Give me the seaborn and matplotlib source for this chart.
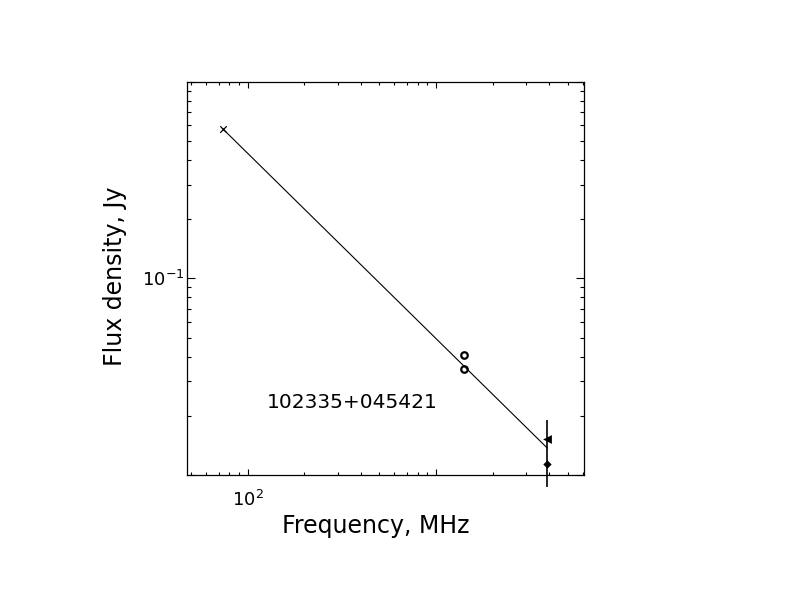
import seaborn as sns
import matplotlib.pyplot as plt
from matplotlib.ticker import FixedLocator, LogLocator, NullFormatter

# 74 MHz point (cross)
freq_cross = [74]
flux_cross = [0.574]
# 1400 MHz points (open circles)
freq_circle = [1400, 1400]
flux_circle = [0.0406, 0.0345]
# high frequency points
freq_tri = [3900]
flux_tri = [0.0152]
freq_dot = [3900]
flux_dot = [0.0114]
# vertical error bar at the high frequency end
err_freq = 3900
err_lo = 0.0087
err_hi = 0.0190
# fitted power law (end points)
fit_freq = [74, 3900]
fit_flux = [0.574, 0.0137]

source_name = '102335+045421'
x_ticks = [100, 1000]
x_ticklabels = [r'$10^{2}$', '']
y_ticks = [0.01, 0.1, 1.0]
y_ticklabels = ['', r'$10^{-1}$', '']

sns.set_style('ticks')
plt.rcParams['font.family'] = ['DejaVu Sans']
plt.rcParams.update({'text.color': 'black', 'axes.labelcolor': 'black',
                     'xtick.color': 'black', 'ytick.color': 'black',
                     'axes.edgecolor': 'black'})

fig = plt.figure(figsize=(7.92, 6.12), dpi=100)
ax = fig.add_axes([0.2361, 0.2239, 0.5013, 0.6426])

sns.lineplot(x=fit_freq, y=fit_flux, ax=ax, color='black', linewidth=0.8)
sns.scatterplot(x=freq_cross, y=flux_cross, ax=ax, marker='x', s=22,
                color='black', linewidth=0.9)
sns.scatterplot(x=freq_circle, y=flux_circle, ax=ax, marker='o', s=22,
                facecolor='white', edgecolor='black', linewidth=1.6)
sns.scatterplot(x=freq_tri, y=flux_tri, ax=ax, marker='<', s=40,
                color='black', linewidth=0)
sns.scatterplot(x=freq_dot, y=flux_dot, ax=ax, marker='D', s=18,
                color='black', linewidth=0)
ax.vlines(err_freq, err_lo, err_hi, color='black', linewidth=1.2,
          clip_on=False)

ax.set_xscale('log')
ax.set_yscale('log')
ax.set_xlim(47.6, 6110)
ax.set_ylim(0.01, 1.0)

ax.xaxis.set_major_locator(FixedLocator(x_ticks))
ax.set_xticklabels(x_ticklabels)
ax.xaxis.set_minor_locator(LogLocator(base=10, subs=range(2, 10), numticks=20))
ax.xaxis.set_minor_formatter(NullFormatter())
ax.yaxis.set_major_locator(FixedLocator(y_ticks))
ax.set_yticklabels(y_ticklabels)
ax.yaxis.set_minor_locator(LogLocator(base=10, subs=range(2, 10), numticks=20))
ax.yaxis.set_minor_formatter(NullFormatter())

ax.tick_params(which='both', direction='in', top=True, right=True,
               width=0.8, labelsize=13)
ax.tick_params(axis='x', which='major', length=4.5, pad=11)
ax.tick_params(axis='x', which='minor', length=2.5)
ax.tick_params(axis='y', which='major', length=6, pad=2)
ax.tick_params(axis='y', which='minor', length=3)
for sp in ax.spines.values():
    sp.set_linewidth(0.9)
    sp.set_visible(True)

ax.set_xlabel('Frequency, MHz', fontsize=17)
ax.set_ylabel('Flux density, Jy', fontsize=17)
ax.xaxis.set_label_coords(0.476, -0.1)
ax.yaxis.set_label_coords(-0.15, 0.505)

ax.text(0.2008, 0.1838, source_name, transform=ax.transAxes,
        ha='left', va='center', fontsize=14.5)

fig.savefig('out.png', dpi=100, facecolor='white')
